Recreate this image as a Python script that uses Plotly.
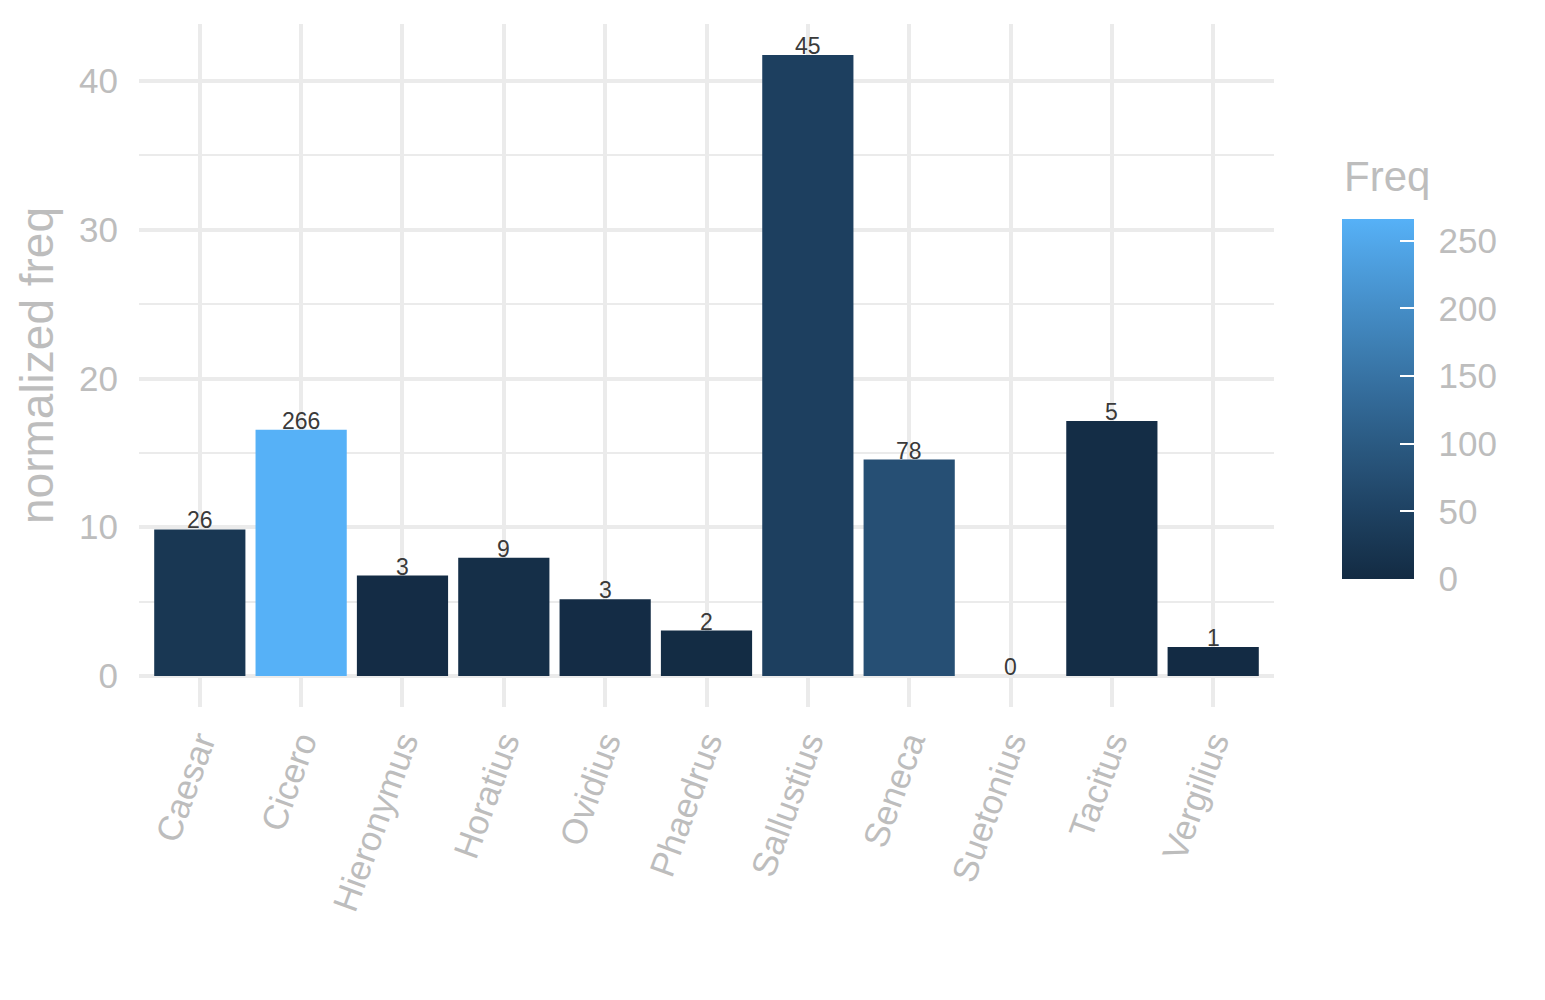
import plotly.graph_objects as go

authors = ['Caesar', 'Cicero', 'Hieronymus', 'Horatius', 'Ovidius', 'Phaedrus',
           'Sallustius', 'Seneca', 'Suetonius', 'Tacitus', 'Vergilius']
norm_freq = [9.85, 16.55, 6.75, 7.95, 5.15, 3.05, 41.75, 14.55, 0.0, 17.15, 1.95]
freq = [26, 266, 3, 9, 3, 2, 45, 78, 0, 5, 1]
cbar_ticks = [0, 50, 100, 150, 200, 250]

grey_txt = '#BDBDBD'
grid_col = '#EBEBEB'
font_fam = 'Liberation Sans, Arial, sans-serif'


# ggplot's default gradient is interpolated in CIE Lab space
def hex2lab(h):
    rgb = [int(h[i:i + 2], 16) / 255 for i in (1, 3, 5)]
    rgb = [((c + 0.055) / 1.055) ** 2.4 if c > 0.04045 else c / 12.92 for c in rgb]
    r, g, b = rgb
    x = (0.4124 * r + 0.3576 * g + 0.1805 * b) / 0.95047
    y = (0.2126 * r + 0.7152 * g + 0.0722 * b)
    z = (0.0193 * r + 0.1192 * g + 0.9505 * b) / 1.08883
    f = lambda t: t ** (1 / 3) if t > 0.008856 else 7.787 * t + 16 / 116
    fx, fy, fz = f(x), f(y), f(z)
    return (116 * fy - 16, 500 * (fx - fy), 200 * (fy - fz))


def lab2hex(L, a, b):
    fy = (L + 16) / 116
    fx = fy + a / 500
    fz = fy - b / 200
    fi = lambda t: t ** 3 if t ** 3 > 0.008856 else (t - 16 / 116) / 7.787
    x, y, z = fi(fx) * 0.95047, fi(fy), fi(fz) * 1.08883
    r = 3.2406 * x - 1.5372 * y - 0.4986 * z
    g = -0.9689 * x + 1.8758 * y + 0.0415 * z
    bb = 0.0557 * x - 0.2040 * y + 1.0570 * z
    out = []
    for c in (r, g, bb):
        c = 1.055 * c ** (1 / 2.4) - 0.055 if c > 0.0031308 else 12.92 * c
        out.append(min(255, max(0, round(c * 255))))
    return '#%02X%02X%02X' % tuple(out)


lo, hi = hex2lab('#132B43'), hex2lab('#56B1F7')
gg_blues = []
for i in range(11):
    t = i / 10
    gg_blues.append([t, lab2hex(*[lo[k] + (hi[k] - lo[k]) * t for k in range(3)])])

cb_common = dict(
    thickness=72, thicknessmode='pixels', len=360, lenmode='pixels',
    x=1.06, xanchor='left', xpad=0, y=0.1874, yanchor='bottom', ypad=0,
    outlinewidth=0, tickvals=cbar_ticks,
)

fig = go.Figure()
fig.add_trace(go.Bar(
    x=authors, y=norm_freq, width=0.9,
    marker=dict(color=freq, colorscale=gg_blues, cmin=0, cmax=max(freq),
                line=dict(width=0),
                colorbar=dict(
                    ticks='outside', ticklen=18, tickcolor='rgba(0,0,0,0)',
                    tickfont=dict(size=35, color=grey_txt, family=font_fam),
                    **cb_common)),
    showlegend=False,
))
# transparent overlay colorbar, only for the white tick marks inside the bar
fig.add_trace(go.Scatter(
    x=[authors[0]], y=[0], mode='markers', showlegend=False, hoverinfo='skip',
    marker=dict(size=0.1, opacity=0, color=[0], cmin=0, cmax=max(freq),
                colorscale=[[0, 'rgba(0,0,0,0)'], [1, 'rgba(0,0,0,0)']],
                colorbar=dict(ticks='inside', ticklen=14, tickwidth=2, tickcolor='white',
                              showticklabels=False, **cb_common)),
))

fig.add_annotation(text='Freq', xref='paper', yref='paper', x=1.06, y=0.776,
                   xanchor='left', yanchor='middle', showarrow=False,
                   font=dict(size=42, color=grey_txt, family=font_fam))

for a, v, f in zip(authors, norm_freq, freq):
    fig.add_annotation(x=a, y=v, text=str(f), showarrow=False,
                       yanchor='bottom', yshift=-6,
                       font=dict(size=23, color='#3A3A3A', family=font_fam))

fig.update_layout(
    width=1545, height=1000,
    margin=dict(l=131, r=279, t=16, b=301),
    plot_bgcolor='white', paper_bgcolor='white',
    font=dict(family=font_fam, color=grey_txt),
    bargap=0.1,
)
fig.update_xaxes(
    range=[-0.6, 10.6], showgrid=True, gridcolor=grid_col, gridwidth=4,
    zeroline=False, showline=False, ticks='', tickangle=-70, automargin=False,
    tickfont=dict(size=35, color=grey_txt), ticklabelstandoff=7,
)
fig.update_yaxes(
    range=[-2.09, 43.84], tickvals=[0, 10, 20, 30, 40], automargin=False,
    showgrid=True, gridcolor=grid_col, gridwidth=4,
    minor=dict(tickvals=[5, 15, 25, 35], showgrid=True, gridcolor=grid_col, gridwidth=2),
    zeroline=False, showline=False, ticks='',
    tickfont=dict(size=35, color=grey_txt), ticklabelstandoff=20,
    title=dict(text='normalized freq', font=dict(size=46, color=grey_txt), standoff=10),
)

fig.write_html('out.html')
